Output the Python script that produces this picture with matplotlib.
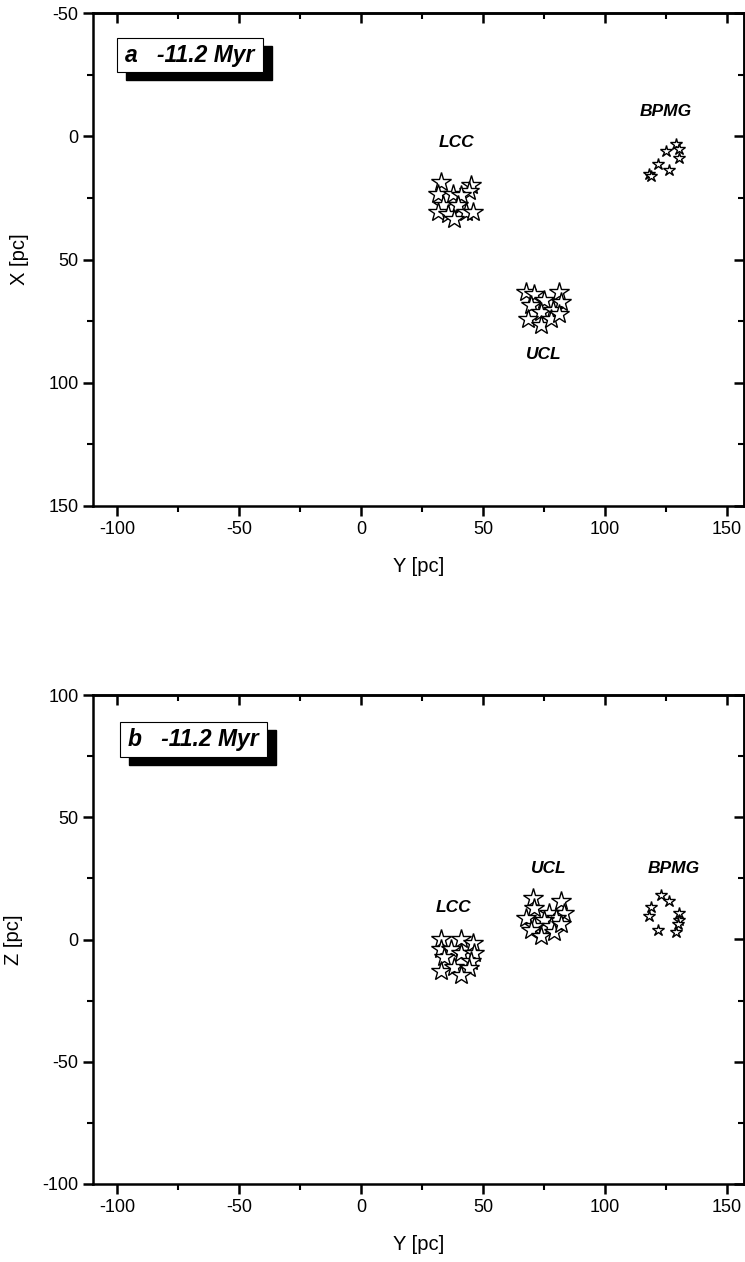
import numpy as np
import matplotlib.pyplot as plt
from matplotlib.patches import Rectangle

plt.rcParams['font.family'] = ['Liberation Sans', 'DejaVu Sans']
plt.rcParams['axes.unicode_minus'] = False

# panel a: Y-X plane
lcc_y_a = [32.8, 45.1, 31.6, 37.7, 44.3, 41.0, 33.6, 39.8, 31.6, 35.7, 43.0, 38.1, 45.9]
lcc_x_a = [18.4, 19.6, 23.3, 23.3, 22.4, 23.7, 27.8, 27.8, 30.6, 31.4, 30.6, 33.5, 30.6]
ucl_y_a = [67.6, 70.9, 81.1, 82.0, 75.0, 69.7, 73.8, 78.7, 68.4, 73.8, 77.9, 81.1]
ucl_x_a = [63.3, 64.1, 63.3, 67.3, 66.5, 68.6, 71.4, 70.6, 74.3, 76.7, 74.3, 72.2]
bpmg_y_a = [129.0, 130.3, 125.0, 130.3, 121.7, 126.2, 118.0, 118.9]
bpmg_x_a = [3.3, 5.3, 6.1, 9.0, 11.4, 13.5, 15.5, 16.3]

# panel b: Y-Z plane
lcc_y_b = [32.8, 41.0, 45.9, 32.8, 36.9, 34.0, 41.0, 46.3, 45.1, 32.8, 38.1, 44.3, 41.0]
lcc_z_b = [0.4, 0.4, -1.6, -3.7, -3.7, -7.3, -5.7, -5.7, -8.6, -12.7, -11.4, -11.8, -14.7]
ucl_y_b = [70.5, 82.0, 70.9, 83.2, 77.0, 67.6, 79.9, 75.0, 70.9, 77.9, 69.7, 73.8, 79.1, 82.0]
ucl_z_b = [17.1, 15.9, 12.7, 11.0, 11.0, 8.6, 8.6, 7.8, 5.7, 5.7, 3.7, 1.6, 2.9, 6.5]
bpmg_y_b = [123.0, 126.2, 118.9, 118.0, 130.3, 130.3, 129.9, 121.7, 129.1]
bpmg_z_b = [18.0, 15.9, 13.1, 9.8, 11.0, 7.8, 6.5, 3.7, 2.9]

W, H = 745, 1262
fig = plt.figure(figsize=(W / 100, H / 100), dpi=100)


def setup(ax, ylim, yticks, ylabel, tag, box, labels):
    ax.set_xlim(-110, 157)
    ax.set_ylim(*ylim)
    ax.set_xticks([-100, -50, 0, 50, 100, 150])
    ax.set_xticks(np.arange(-75, 150, 50), minor=True)
    ax.set_yticks(yticks)
    ax.set_yticks(np.arange(min(yticks) + 25, max(yticks), 50), minor=True)
    for s in ax.spines.values():
        s.set_linewidth(1.8)
    ax.tick_params(which='major', direction='out', length=7, width=1.8, labelsize=13)
    ax.tick_params(which='minor', direction='out', length=4, width=1.5)
    # inward ticks on top and right
    sx = ax.secondary_xaxis('top')
    sx.set_xticks(ax.get_xticks())
    sx.set_xticks(ax.get_xticks(minor=True), minor=True)
    sx.tick_params(which='major', direction='in', length=7, width=1.8, labeltop=False)
    sx.tick_params(which='minor', direction='in', length=4, width=1.5)
    sy = ax.secondary_yaxis('right')
    sy.set_yticks(ax.get_yticks())
    sy.set_yticks(ax.get_yticks(minor=True), minor=True)
    sy.tick_params(which='major', direction='in', length=7, width=1.8, labelright=False)
    sy.tick_params(which='minor', direction='in', length=4, width=1.5)
    for s in list(sx.spines.values()) + list(sy.spines.values()):
        s.set_linewidth(1.8)
    ax.set_xlabel('Y [pc]', fontsize=14.5, labelpad=14)
    ax.set_ylabel(ylabel, fontsize=14.5, labelpad=14)
    # tag box with shadow
    x0, y0, bw, bh = box
    ax.add_patch(Rectangle((x0 + 0.014, y0 - 0.016), bw, bh, transform=ax.transAxes,
                           facecolor='black', edgecolor='black', zorder=4))
    ax.add_patch(Rectangle((x0, y0), bw, bh, transform=ax.transAxes,
                           facecolor='white', edgecolor='black', lw=0.8, zorder=5))
    ax.text(x0 + 0.012, y0 + bh / 2, tag, transform=ax.transAxes, ha='left', va='center',
            fontsize=16.5, fontweight='bold', fontstyle='italic', zorder=6)
    for txt, x, y in labels:
        ax.text(x, y, txt, ha='center', va='center', fontsize=12.5,
                fontweight='bold', fontstyle='italic')


star = dict(marker='*', linestyle='none', markerfacecolor='white',
            markeredgecolor='black', markeredgewidth=1.0)

ax1 = fig.add_axes([93 / W, 1 - 506 / H, 651 / W, 493 / H])
ax1.plot(lcc_y_a, lcc_x_a, markersize=15, **star)
ax1.plot(ucl_y_a, ucl_x_a, markersize=15, **star)
ax1.plot(bpmg_y_a, bpmg_x_a, markersize=9, **star)
ax1.invert_yaxis()
setup(ax1, (150, -50), [-50, 0, 50, 100, 150], 'X [pc]', 'a   -11.2 Myr',
      (0.037, 0.880, 0.224, 0.069),
      [('LCC', 39, 2.5), ('BPMG', 125, -10), ('UCL', 75, 88.5)])

ax2 = fig.add_axes([93 / W, 1 - 1184 / H, 651 / W, 489 / H])
ax2.plot(lcc_y_b, lcc_z_b, markersize=15, **star)
ax2.plot(ucl_y_b, ucl_z_b, markersize=15, **star)
ax2.plot(bpmg_y_b, bpmg_z_b, markersize=9, **star)
setup(ax2, (-100, 100), [-100, -50, 0, 50, 100], 'Z [pc]', 'b   -11.2 Myr',
      (0.0415, 0.873, 0.226, 0.072),
      [('UCL', 77, 29), ('BPMG', 128, 29), ('LCC', 38, 13)])

fig.savefig('out.png', dpi=100)
